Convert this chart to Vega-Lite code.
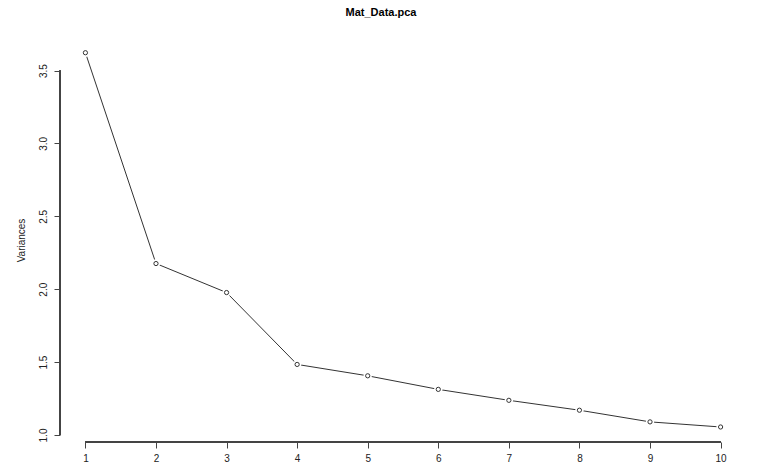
{
  "$schema": "https://vega.github.io/schema/vega-lite/v6.json",
  "width": 686,
  "height": 404,
  "autosize": {"type": "none"},
  "padding": {"left": 60, "top": 38, "right": 15, "bottom": 24},
  "background": "white",
  "config": {
    "view": {"stroke": null},
    "font": "Liberation Sans",
    "axis": {"grid": false, "domain": false, "tickColor": "#444", "tickSize": 6, "labelColor": "#222", "labelFont": "Liberation Sans", "labelFontSize": 10, "titleFont": "Liberation Sans", "titleFontWeight": "normal", "titleFontSize": 10, "titleColor": "#222"}
  },
  "title": {"text": "Mat_Data.pca", "fontSize": 11, "fontWeight": "bold", "font": "Liberation Sans", "color": "#000", "anchor": "middle", "frame": "bounds", "offset": 20},
  "data": {"values": [
    {"pc": 1, "variance": 3.622},
    {"pc": 2, "variance": 2.176},
    {"pc": 3, "variance": 1.977},
    {"pc": 4, "variance": 1.484},
    {"pc": 5, "variance": 1.406},
    {"pc": 6, "variance": 1.313},
    {"pc": 7, "variance": 1.238},
    {"pc": 8, "variance": 1.17},
    {"pc": 9, "variance": 1.09},
    {"pc": 10, "variance": 1.055}
  ]},
  "encoding": {
    "x": {"field": "pc", "type": "quantitative", "scale": {"domain": [0.64, 10.36], "nice": false, "zero": false},
      "axis": {"values": [1,2,3,4,5,6,7,8,9,10], "title": null, "labelPadding": 5, "labelFlush": false}},
    "y": {"field": "variance", "type": "quantitative", "scale": {"domain": [0.952, 3.723], "nice": false, "zero": false},
      "axis": {"values": [1.0,1.5,2.0,2.5,3.0,3.5], "format": ".1f", "title": "Variances", "labelAngle": -90, "labelAlign": "center", "labelBaseline": "bottom", "labelPadding": 6, "titlePadding": 12, "labelFlush": false}}
  },
  "layer": [
    {"mark": {"type": "rule", "color": "#444", "strokeWidth": 1}, "encoding": {"x": {"datum": 0.64}, "y": {"datum": 1.0}, "y2": {"datum": 3.5}}},
    {"mark": {"type": "rule", "color": "#444", "strokeWidth": 1}, "encoding": {"y": {"datum": 0.952}, "x": {"datum": 1}, "x2": {"datum": 10}}},
    {"mark": {"type": "line", "color": "#333", "strokeWidth": 1}},
    {"mark": {"type": "point", "filled": true, "color": "white", "size": 70, "opacity": 1}},
    {"mark": {"type": "point", "filled": false, "color": "#333", "size": 18, "strokeWidth": 1, "opacity": 1}}
  ]
}
